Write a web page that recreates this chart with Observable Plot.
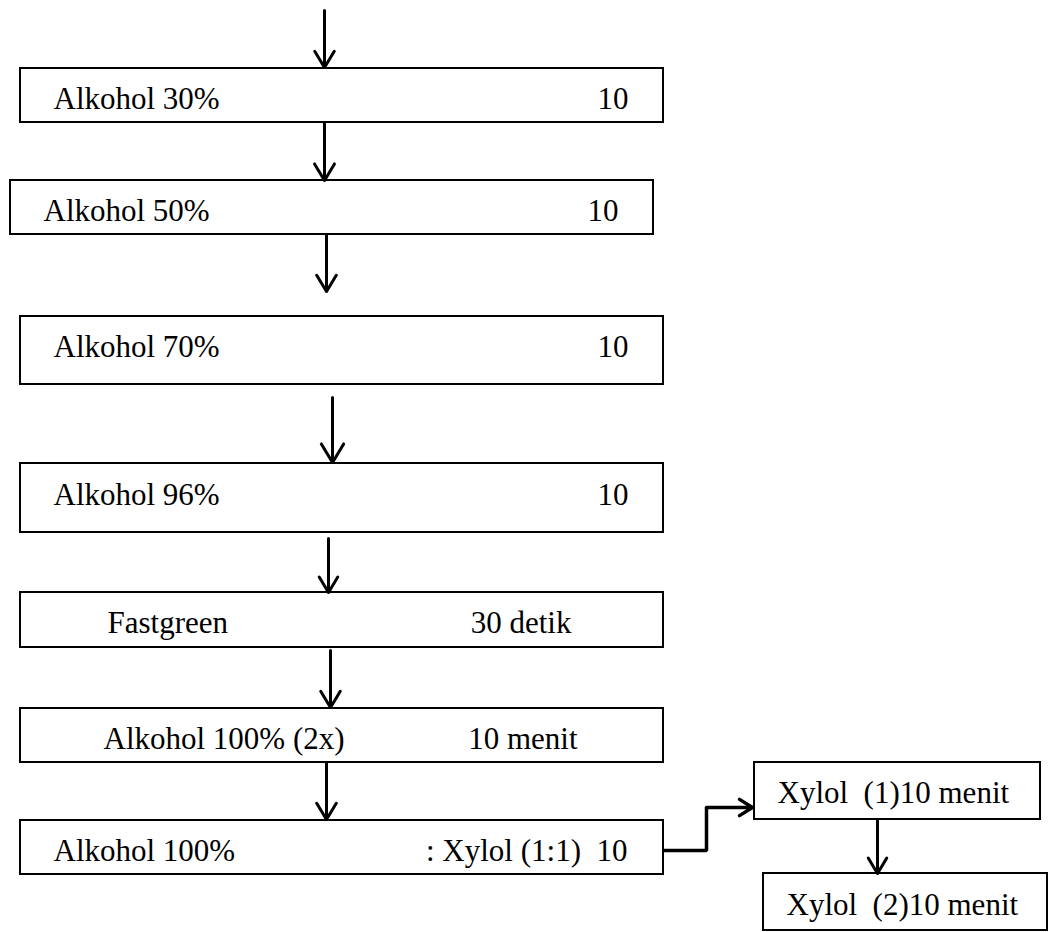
<!DOCTYPE html>
<html><head><meta charset="utf-8">
<script src="https://cdn.jsdelivr.net/npm/d3@7"></script>
<script src="https://cdn.jsdelivr.net/npm/@observablehq/plot@0.6"></script>
<style>
html,body{margin:0;padding:0;background:#fff}
svg text{white-space:pre}
</style></head><body><div id="chart"></div>
<script>
// content
const steps = ["Alkohol 30%","Alkohol 50%","Alkohol 70%","Alkohol 96%","Fastgreen","Alkohol 100% (2x)","Alkohol 100%","Xylol  (1)10 menit","Xylol  (2)10 menit"];
const durations = ["10","10","10","10","30 detik","10 menit",": Xylol (1:1)  10","",""];
// layout (page pixels)
const boxLeft = [20,10,20,20,20,20,20,754,763];
const boxRight = [663,653,663,663,663,663,663,1040,1047];
const boxTop = [68,180,316,463,592,708,820,762,873];
const boxBottom = [122,234,384,532,647,762,874,819,930];
const labelX = [53,43,53,53,107,103,53,777,786];
const baseline = [108,220,356,504,632,748,860,802,914];
const durationEndX = [628,618,628,628,571,577,627,0,0];
// vertical arrows
const arrowX = [324,324,326,332,328,330,326,877];
const arrowFrom = [10,122,234,397,538,650,762,819];
const arrowTo = [67,180,291,462,592,707,819,873];
// elbow connector from last main box to Xylol (1)
const elbowX = [663,706,706];
const elbowY = [850,850,807];
const elbowArrowEndX = 752;

const boxes = steps.map((s,i)=>({label:s, dur:durations[i], x1:boxLeft[i], x2:boxRight[i], y1:boxTop[i], y2:boxBottom[i], lx:labelX[i], dx:durationEndX[i], by:baseline[i]}));
const arrows = arrowX.map((x,i)=>({x, y1:arrowFrom[i], y2:arrowTo[i]}));
const elbow = elbowX.map((x,i)=>({x, y:elbowY[i]}));
const elbowArrow = [{x1:elbowX[2], y1:elbowY[2], x2:elbowArrowEndX, y2:elbowY[2]}];

const font = "'Liberation Serif','Times New Roman',serif";
const chart = Plot.plot({
  width:1054, height:932,
  margin:0,
  x:{domain:[0,1054], range:[0,1054], axis:null},
  y:{domain:[0,932], range:[0,932], axis:null},
  style:{background:"#fff"},
  marks:[
    Plot.rect(boxes,{x1:"x1",x2:"x2",y1:"y1",y2:"y2",fill:"white",stroke:"black",strokeWidth:2}),
    Plot.arrow(arrows,{x1:"x",x2:"x",y1:"y1",y2:"y2",stroke:"black",strokeWidth:3,headLength:11,headAngle:62,inset:0}),
    Plot.line(elbow,{x:"x",y:"y",stroke:"black",strokeWidth:3.5,strokeLinejoin:"miter",strokeLinecap:"butt"}),
    Plot.arrow(elbowArrow,{x1:"x1",y1:"y1",x2:"x2",y2:"y2",stroke:"black",strokeWidth:3.5,headLength:10,headAngle:64,inset:0}),
    Plot.text(boxes,{x:"lx",y:"by",text:"label",textAnchor:"start",lineAnchor:"bottom",fontFamily:font,fontSize:31,fill:"black"}),
    Plot.text(boxes.filter(d=>d.dur),{x:"dx",y:"by",text:"dur",textAnchor:"end",lineAnchor:"bottom",fontFamily:font,fontSize:31,fill:"black"})
  ]
});
document.getElementById("chart").appendChild(chart);
</script></body></html>
